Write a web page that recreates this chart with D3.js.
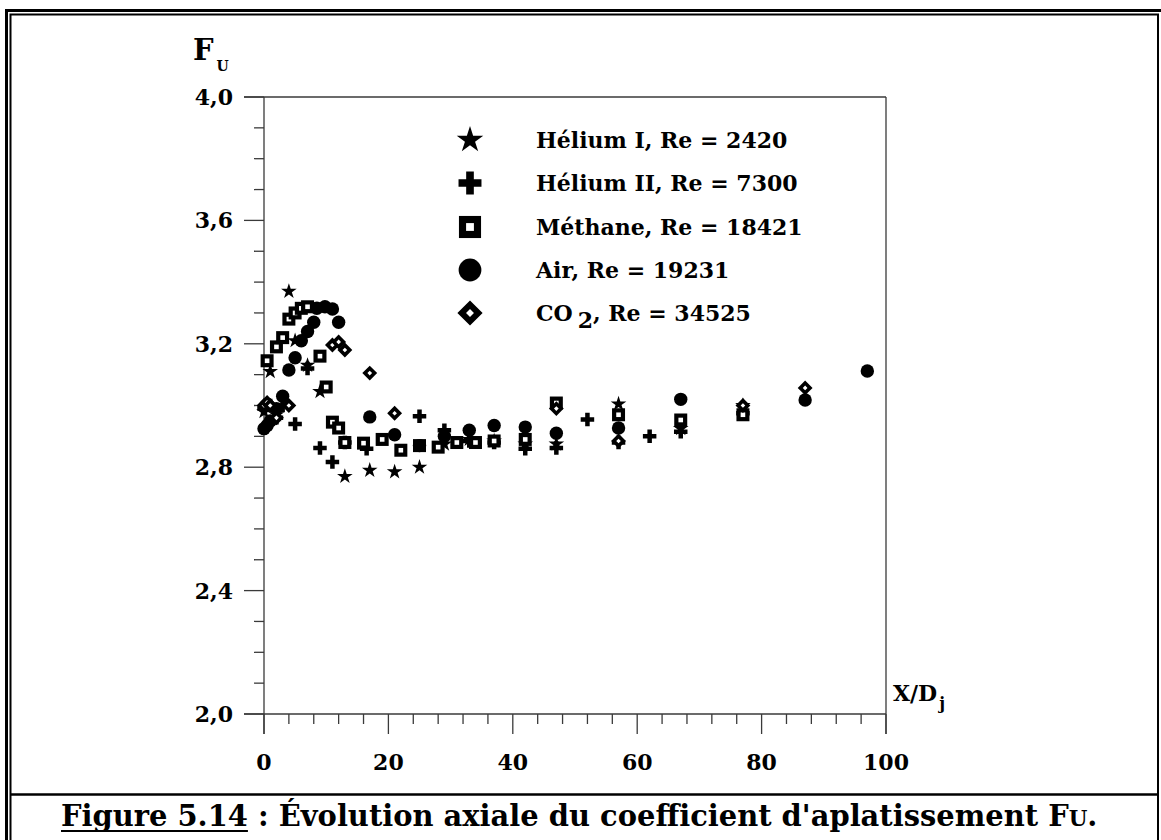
<!DOCTYPE html>
<html>
<head>
<meta charset="utf-8">
<script src="https://cdn.jsdelivr.net/npm/d3@7"></script>
<style>
  body { margin: 0; background: #fff; }
  svg { display: block; }
  text { font-family: "DejaVu Serif", "Liberation Serif", serif; font-weight: bold; fill: #000; white-space: pre; }
</style>
</head>
<body>
<svg id="chart" width="1161" height="840"></svg>
<script>
// ---- axis ticks and labels ----
const xMajorTicks = [0, 20, 40, 60, 80, 100];
const yMajorTicks = [2.0, 2.4, 2.8, 3.2, 3.6, 4.0];
const yTickLabels = ["2,0", "2,4", "2,8", "3,2", "3,6", "4,0"];

// ---- series ----
const seriesNames = [
  "Hélium I, Re = 2420",
  "Hélium II, Re = 7300",
  "Méthane, Re = 18421",
  "Air, Re = 19231",
  "CO2, Re = 34525"
];
const seriesMarkers = ["star", "plus", "square", "circle", "diamond"];

const heliumIX = [0, 1, 2, 4, 5, 7, 9, 13, 17, 21, 25, 29, 33, 37, 42, 47, 57, 67, 77];
const heliumIY = [2.98, 3.11, 2.97, 3.37, 3.21, 3.13, 3.045, 2.77, 2.79, 2.785, 2.80, 2.875, 2.89, 2.885, 2.875, 2.875, 3.005, 2.925, 3.0];

const heliumIIX = [0, 1, 2, 3, 5, 7, 9, 11, 13, 16.5, 25, 29, 33, 37, 42, 47, 52, 57, 62, 67, 77];
const heliumIIY = [2.99, 3.0, 2.96, 3.0, 2.94, 3.12, 2.862, 2.817, 2.88, 2.86, 2.965, 2.92, 2.885, 2.88, 2.86, 2.862, 2.955, 2.88, 2.90, 2.915, 2.975];

const methaneX = [0.5, 2, 3, 4, 5, 6, 7, 9, 10, 11, 12, 13, 16, 19, 22, 25, 28, 31, 34, 37, 42, 47, 57, 67, 77];
const methaneY = [3.145, 3.19, 3.22, 3.28, 3.30, 3.315, 3.32, 3.16, 3.06, 2.946, 2.927, 2.88, 2.878, 2.89, 2.855, 2.87, 2.865, 2.88, 2.88, 2.885, 2.89, 3.008, 2.97, 2.953, 2.97];

const airX = [0, 0.5, 1, 2, 3, 4, 5, 6, 7, 8, 8.5, 9.8, 11, 12, 17, 21, 25, 29, 33, 37, 42, 47, 57, 67, 87, 97];
const airY = [2.925, 2.935, 2.95, 2.99, 3.03, 3.115, 3.155, 3.21, 3.24, 3.27, 3.315, 3.32, 3.313, 3.27, 2.963, 2.905, 2.87, 2.90, 2.92, 2.935, 2.93, 2.91, 2.927, 3.02, 3.018, 3.112];

const co2X = [0, 0.5, 1, 2, 4, 11, 12, 13, 17, 21, 47, 57, 77, 87];
const co2Y = [3.0, 3.01, 3.0, 2.96, 3.0, 3.196, 3.206, 3.18, 3.105, 2.975, 2.99, 2.885, 3.0, 3.057];

const seriesX = [heliumIX, heliumIIX, methaneX, airX, co2X];
const seriesY = [heliumIY, heliumIIY, methaneY, airY, co2Y];

// ---- layout ----
const svg = d3.select("#chart");
const W = 1161, H = 840;
const plot = { left: 264, right: 886, top: 97, bottom: 714 };

const x = d3.scaleLinear().domain([0, 100]).range([plot.left, plot.right]);
const y = d3.scaleLinear().domain([2.0, 4.0]).range([plot.bottom, plot.top]);

const axisColor = "#3a3a3a";

// ---- page frame (double rule) and caption box ----
const frame = svg.append("g");
frame.append("rect").attr("x", 6.5).attr("y", 10.5).attr("width", 1160).attr("height", H + 10)
  .attr("fill", "none").attr("stroke", "#000").attr("stroke-width", 3);
frame.append("rect").attr("x", 10.5).attr("y", 14.5).attr("width", 1147.5).attr("height", H)
  .attr("fill", "none").attr("stroke", "#000").attr("stroke-width", 2);
frame.append("line").attr("x1", 10.5).attr("x2", 1158).attr("y1", 794.5).attr("y2", 794.5)
  .attr("stroke", "#000").attr("stroke-width", 2.5);

// ---- axes ----
const axes = svg.append("g").attr("stroke", axisColor).attr("stroke-width", 1.3).attr("fill", "none");
axes.append("line").attr("x1", plot.left - 20).attr("x2", plot.right).attr("y1", y(4.0)).attr("y2", y(4.0));
axes.append("line").attr("x1", plot.right).attr("x2", plot.right).attr("y1", y(4.0)).attr("y2", plot.bottom + 20);
axes.append("line").attr("x1", plot.left).attr("x2", plot.left).attr("y1", y(4.0)).attr("y2", plot.bottom + 20);
axes.append("line").attr("x1", plot.left - 20).attr("x2", plot.right).attr("y1", plot.bottom).attr("y2", plot.bottom);

// y ticks: majors every 0.4, minors every 0.1
const yMinor = d3.range(2.0, 4.001, 0.1).filter(v => !yMajorTicks.some(m => Math.abs(m - v) < 1e-6));
axes.selectAll(".ymaj").data(yMajorTicks).join("line")
  .attr("x1", plot.left - 20).attr("x2", plot.left).attr("y1", d => y(d)).attr("y2", d => y(d));
axes.selectAll(".ymin").data(yMinor).join("line")
  .attr("x1", plot.left - 10).attr("x2", plot.left).attr("y1", d => y(d)).attr("y2", d => y(d));

// x ticks: majors every 20, minors every 4
const xMinor = d3.range(0, 100.001, 4).filter(v => v % 20 !== 0);
axes.selectAll(".xmaj").data(xMajorTicks).join("line")
  .attr("x1", d => x(d)).attr("x2", d => x(d)).attr("y1", plot.bottom).attr("y2", plot.bottom + 20);
axes.selectAll(".xmin").data(xMinor).join("line")
  .attr("x1", d => x(d)).attr("x2", d => x(d)).attr("y1", plot.bottom).attr("y2", plot.bottom + 10);

// tick labels
svg.append("g").selectAll("text").data(yMajorTicks).join("text")
  .attr("x", 233).attr("y", d => y(d) + 8).attr("text-anchor", "end")
  .attr("font-size", 22).text((d, i) => yTickLabels[i]);
svg.append("g").selectAll("text").data(xMajorTicks).join("text")
  .attr("x", d => x(d)).attr("y", 770).attr("text-anchor", "middle")
  .attr("font-size", 22).text(d => d);

// axis titles
const fu = svg.append("text").attr("x", 193).attr("y", 60).attr("font-size", 29);
fu.append("tspan").text("F");
fu.append("tspan").attr("font-size", 14).attr("dx", 3).attr("dy", 11).text("U");

const xd = svg.append("text").attr("x", 893).attr("y", 701).attr("font-size", 22);
xd.append("tspan").text("X/D");
xd.append("tspan").attr("font-size", 16).attr("dx", 2).attr("dy", 8).text("j");

// ---- markers ----
function drawMarker(g, type, cx, cy, k) {
  const t = `translate(${cx},${cy})`;
  if (type === "star") {
    const r = 8.2 * k;
    g.append("path").attr("transform", t)
      .attr("d", d3.symbol(d3.symbolStar, (r * r) / 0.8908130915292852)()).attr("fill", "#000");
  } else if (type === "plus") {
    const w = 13.5 * k, r = w / 6;
    g.append("path").attr("transform", t)
      .attr("d", d3.symbol(d3.symbolCross, (2 * r) * (2 * r) * 5)()).attr("fill", "#000");
  } else if (type === "square") {
    const sw = 4.2 * k, side = 13 * k - sw;
    g.append("rect").attr("x", cx - side / 2).attr("y", cy - side / 2)
      .attr("width", side).attr("height", side)
      .attr("fill", "#fff").attr("stroke", "#000").attr("stroke-width", sw);
  } else if (type === "circle") {
    g.append("circle").attr("cx", cx).attr("cy", cy).attr("r", 6.7 * k).attr("fill", "#000");
  } else if (type === "diamond") {
    const sw = 3.6 * k, side = 10.5 * k - sw;
    g.append("rect").attr("x", -side / 2).attr("y", -side / 2)
      .attr("width", side).attr("height", side)
      .attr("transform", `${t} rotate(45)`)
      .attr("fill", "#fff").attr("stroke", "#000").attr("stroke-width", sw);
  }
}

const pts = svg.append("g");
seriesX.forEach((xs, si) => {
  xs.forEach((xv, i) => drawMarker(pts, seriesMarkers[si], x(xv), y(seriesY[si][i]), 1));
});

// ---- legend ----
const legendRows = [140, 183, 227, 270, 313];
const lg = svg.append("g");
seriesNames.forEach((name, i) => {
  drawMarker(lg, seriesMarkers[i], 470, legendRows[i], 1.7);
  const t = lg.append("text").attr("x", 536).attr("y", legendRows[i] + 8).attr("font-size", 22);
  if (name.startsWith("CO2")) {
    t.append("tspan").text("CO");
    t.append("tspan").attr("dx", 5).attr("dy", 7).text("2");
    t.append("tspan").attr("dy", -7).text(name.slice(3));
  } else {
    t.text(name);
  }
});

// ---- caption ----
const cap = svg.append("g");
const capLeft = 61, capRight = 1098;
function buildCaption(size) {
  cap.selectAll("*").remove();
  const a = cap.append("text").attr("x", capLeft).attr("y", 826).attr("font-size", size).text("Figure 5.14");
  const wA = a.node().getComputedTextLength();
  cap.append("line").attr("x1", capLeft).attr("x2", capLeft + wA).attr("y1", 831).attr("y2", 831)
    .attr("stroke", "#000").attr("stroke-width", 2);
  const b = cap.append("text").attr("x", capLeft + wA).attr("y", 826).attr("font-size", size);
  b.append("tspan").text("\u00a0: Évolution axiale du coefficient d'aplatissement F");
  b.append("tspan").attr("font-size", size * 0.74).text("U");
  b.append("tspan").text(".");
  return wA + b.node().getComputedTextLength();
}
const w0 = buildCaption(26);
buildCaption(26 * (capRight - capLeft) / w0);
</script>
</body>
</html>
